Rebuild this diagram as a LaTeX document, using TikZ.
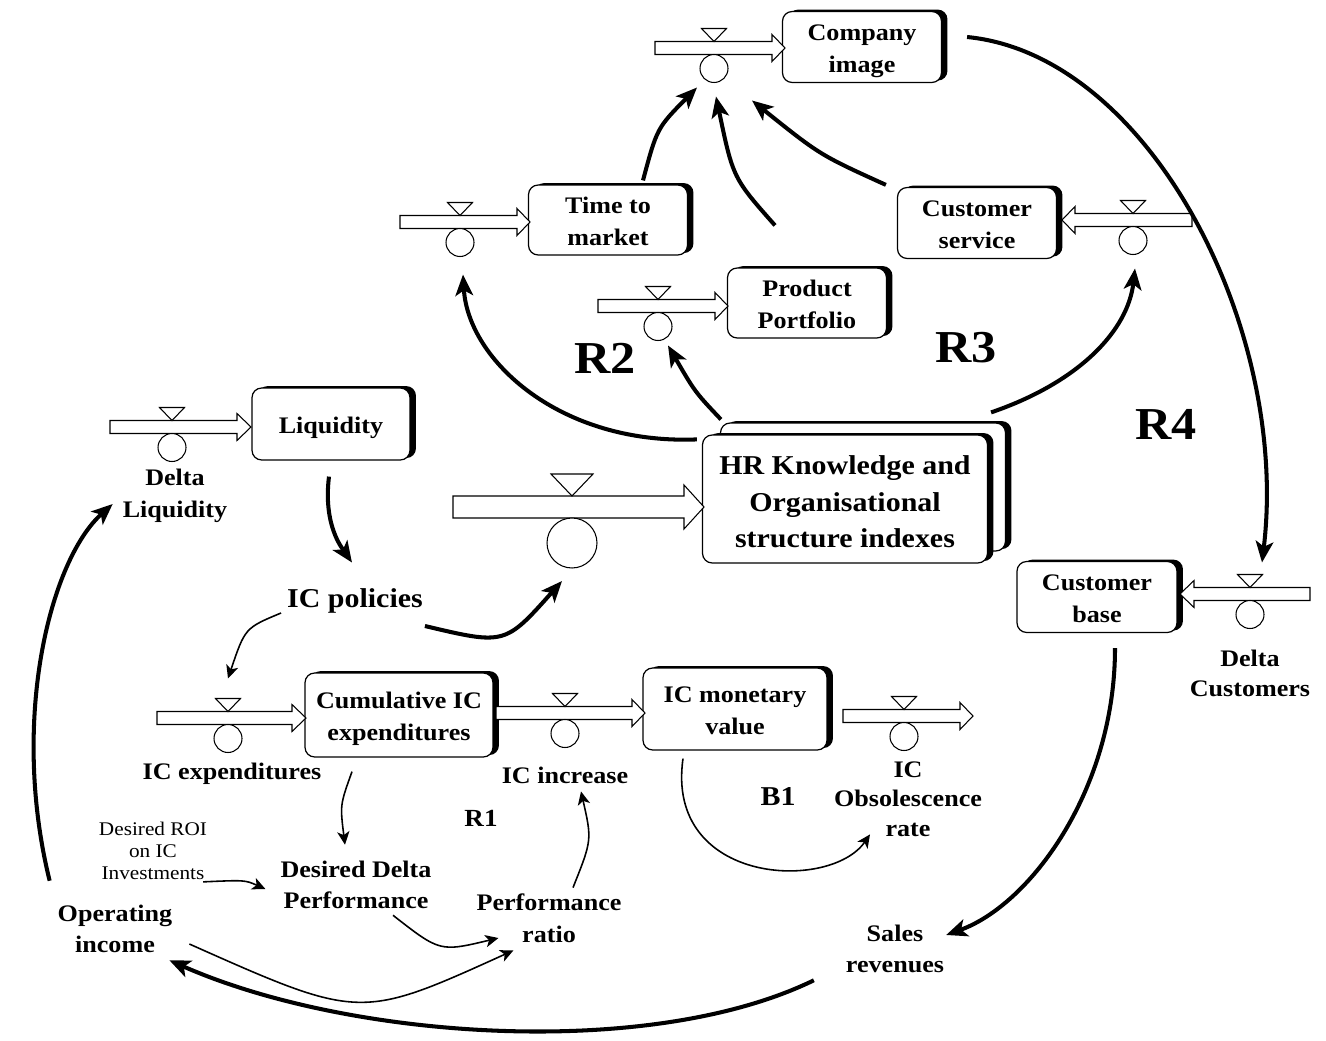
\documentclass[tikz,border=0pt]{standalone}
\usepackage{fontspec}
\setmainfont{Liberation Serif}[FakeStretch=1.1]
\usetikzlibrary{arrows.meta,shadows,calc}
\newcommand\stxt{\fontsize{13.5}{18}\selectfont}
\newcommand\stk[2][16pt]{\begin{tabular}{@{}c@{}}\rule{0pt}{#1}#2\end{tabular}}
\newcommand\flowpipe[6]{%
  \draw[pipe] (#1,#4-#5) -- (#2,#4-#5) -- (#2,#4-#6) -- (#3,#4) -- (#2,#4+#6) -- (#2,#4+#5) -- (#1,#4+#5) -- cycle;}
\newcommand\valve[7]{%
  \draw[pipe] (#2-#5,#3-#6) -- (#2+#5,#3-#6) -- (#2,#3) -- cycle;
  \node[valvec, minimum size=#7*0.04cm] (#1) at (#2,#4+#7) {};}
\begin{document}
\begin{tikzpicture}[x=0.02cm,y=-0.02cm,
  stock/.style={draw, fill=white, rounded corners=5.5pt, line width=0.7pt,
    inner xsep=2pt, inner ysep=0pt, font=\bfseries\stxt,
    drop shadow={shadow xshift=3.4pt, shadow yshift=1.1pt, fill=black, opacity=1}},
  pipe/.style={draw, fill=white, line width=0.6pt},
  valvec/.style={draw, circle, fill=white, inner sep=0pt, line width=0.6pt},
  var/.style={font=\bfseries\stxt, align=center, inner sep=1pt},
  small/.style={font=\fontsize{11}{12.5}\selectfont, align=center, inner sep=1pt},
  loopbig/.style={font=\bfseries\fontsize{26}{30}\selectfont},
  loopsmall/.style={font=\bfseries\fontsize{14}{16}\selectfont},
  thick link/.style={line width=2.3pt, -{Stealth[length=12pt,width=10pt,inset=3pt]}},
  thin link/.style={line width=0.9pt, -{Stealth[length=7.5pt,width=7pt,inset=2pt]}}]
\useasboundingbox[fill=white] (0,0) rectangle (1326,1041);

% ---------- stocks ----------
\node[stock, minimum width=3.18cm, minimum height=1.42cm] (ci) at (862,47) {\stk{Company\\image}};
\node[stock, minimum width=3.18cm, minimum height=1.40cm] (tm) at (608,220) {\stk{Time to\\market}};
\node[stock, minimum width=3.18cm, minimum height=1.42cm] (cs) at (977,223) {\stk{Customer\\service}};
\node[stock, minimum width=3.18cm, minimum height=1.40cm] (pp) at (807,303) {\stk{Product\\Portfolio}};
\node[stock, minimum width=3.16cm, minimum height=1.44cm] (li) at (331,424) {\stk{Liquidity}};
\node[stock, minimum width=5.70cm, minimum height=2.56cm] (hrback) at (863,487) {};
\node[stock, minimum width=5.70cm, minimum height=2.56cm, font=\bfseries\fontsize{15.5}{21}\selectfont] (hr) at (845,499) {\stk[20pt]{HR Knowledge and\\Organisational\\structure indexes}};
\node[stock, minimum width=3.20cm, minimum height=1.42cm] (cb) at (1097,597) {\stk{Customer\\base}};
\node[stock, minimum width=3.76cm, minimum height=1.68cm] (cum) at (399,715) {\stk{Cumulative IC\\expenditures}};
\node[stock, minimum width=3.68cm, minimum height=1.64cm] (mv) at (735,709) {\stk{IC monetary\\value}};

% ---------- flows ----------
\flowpipe{655}{772}{785}{48}{6.5}{13.5}
\valve{vci}{714}{41.5}{54.5}{12.5}{13}{14}
\flowpipe{400}{517}{530}{222}{6.5}{13.5}
\valve{vtm}{460}{215.5}{228.5}{12.5}{13}{14}
\flowpipe{1192}{1075}{1062}{220}{6.5}{13.5}
\valve{vcs}{1133}{213.5}{226.5}{12.5}{13}{14}
\flowpipe{598}{715}{728}{306}{6.5}{13.5}
\valve{vpp}{658}{299.5}{312.5}{12.5}{13}{14}
\flowpipe{110}{237}{251}{427}{6.5}{13.5}
\valve{vli}{172}{420.5}{433.5}{12.5}{13}{14}
\flowpipe{453}{684}{704}{507}{11}{22}
\valve{vhr}{572}{496}{518}{21}{22}{25}
\flowpipe{1310}{1194}{1180}{594}{6.5}{13.5}
\valve{vcb}{1250}{587.5}{600.5}{12.5}{13}{14}
\flowpipe{157}{292}{306}{718}{6.5}{13.5}
\valve{vcum}{228}{711.5}{724.5}{12.5}{13}{14}
\flowpipe{496}{632}{645}{713}{6.5}{13.5}
\valve{vinc}{565}{706.5}{719.5}{12.5}{13}{14}
\flowpipe{843}{960}{973}{716}{6.5}{13.5}
\valve{vobs}{904}{709.5}{722.5}{12.5}{13}{14}

% ---------- variables ----------
\node[var] (dl) at (175,496) {Delta\\Liquidity};
\node[var, font=\bfseries\fontsize{15.5}{18}\selectfont] (icp) at (355,601) {IC policies};
\node[var] (icexp) at (232,774) {IC expenditures};
\node[var] (icinc) at (565,775) {IC increase};
\node[var, font=\bfseries\fontsize{13.5}{16.7}\selectfont] (obs) at (908,799) {IC\\Obsolescence\\rate};
\node[var, font=\bfseries\fontsize{13.5}{17}\selectfont] (dc) at (1250,673) {Delta\\Customers};
\node[small] (roi) at (153,851) {Desired ROI\\on IC\\Investments};
\node[var] (ddp) at (356,885) {Desired Delta\\Performance};
\node[var] (pr) at (549,918) {Performance\\ratio};
\node[var] (oi) at (115,929) {Operating\\income};
\node[var] (sr) at (895,949) {Sales\\revenues};

% ---------- loop labels ----------
\node[loopsmall] (r1) at (481,818) {R1};
\node[loopsmall, font=\bfseries\fontsize{15.5}{18}\selectfont] (b1) at (778,797) {B1};
\node[loopbig] (r2) at (605,358) {R2};
\node[loopbig] (r3) at (966,348) {R3};
\node[loopbig] (r4) at (1166,424) {R4};

% ---------- thick connectors ----------
\draw[thick link] ($(tm.north)+(35,-4)$) .. controls (657,128) .. ($(vci)+(-17,19)$);
\draw[thick link] ($(pp.north)+(-32,-42)$) .. controls (733,178) .. ($(vci)+(2,28)$);
\draw[thick link] ($(cs.north west)+(-11,-2)$) .. controls (820,155) .. ($(vci)+(38,32)$);
\draw[thick link] ($(ci.east)+(25,-10)$) .. controls (1150,55) and (1290,330) .. ($(vcb)+(12,-52)$);
\draw[thick link] ($(hr.north west)+(-5,5)$) .. controls (560,445) and (468,360) .. ($(vtm)+(3,32)$);
\draw[thick link] ($(hrback.north west)+(1,-3)$) .. controls (695,392) .. ($(vpp)+(10,19)$);
\draw[thick link] ($(hrback.north east)+(-15,-10)$) .. controls (1080,382) and (1128,330) .. ($(vcs)+(2,28)$);
\draw[thick link] ($(li.south)+(-2,16)$) .. controls (323,525) and (342,548) .. ($(icp.north)+(-3,-24)$);
\draw[thick link] ($(icp.east)+(0,25)$) .. controls (505,645) .. ($(vhr)+(-10,38)$);
\draw[thick link] ($(cb.south)+(18,15)$) .. controls (1115,790) and (1030,905) .. ($(sr.east)+(0,-14)$);
\draw[thick link] ($(sr.south west)+(-30,5)$) .. controls (650,1060) and (350,1040) .. ($(oi.south east)+(-5,5)$);
\draw[thick link] ($(oi.north west)+(-6,-22)$) .. controls (10,720) and (50,560) .. ($(dl.west)+(-8,8)$);

% ---------- thin connectors ----------
\draw[thin link] ($(icp.west)+(-4,12)$) .. controls (245,628) .. ($(vcum)+(0,-60)$);
\draw[thin link] ($(cum.south)+(-47,14)$) .. controls (340,805) .. ($(ddp.north)+(-11,-14)$);
\draw[thin link] ($(roi.south east)+(-6,0)$) .. controls (245,880) .. ($(ddp.west)+(-13,4)$);
\draw[thin link] ($(ddp.south)+(37,4)$) .. controls (440,952) .. ($(pr.west)+(24,20)$);
\draw[thin link] ($(oi.east)+(15,15)$) .. controls (360,1020) .. ($(pr.south west)+(39,6)$);
\draw[thin link] ($(pr.north)+(24,-4)$) .. controls (592,840) .. ($(icinc.south)+(16,6)$);
\draw[thin link] ($(mv.south)+(-52,8)$) .. controls (665,885) and (830,892) .. ($(obs.south)+(-38,-4)$);
\end{tikzpicture}
\end{document}
